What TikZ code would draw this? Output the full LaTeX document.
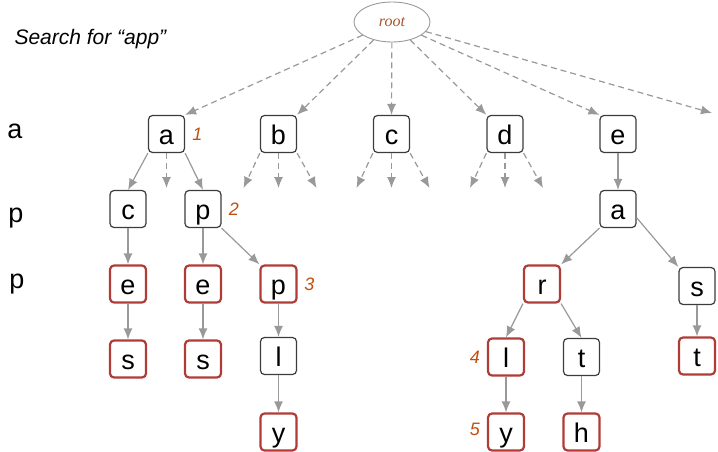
\documentclass[tikz,border=0pt]{standalone}
\usepackage{fontspec}
\setmainfont{Liberation Sans}
\newfontfamily\rootfont{Liberation Serif}
\usepackage{tikz}
\usetikzlibrary{shapes.geometric,arrows.meta,positioning}
\definecolor{edgegray}{HTML}{999999}
\definecolor{boxline}{HTML}{3C3C3C}
\definecolor{hitred}{HTML}{B03C38}
\definecolor{numorange}{HTML}{C0500E}
\definecolor{rootbrown}{HTML}{A8542A}
\tikzstyle{box}=[draw=boxline, line width=1.2pt, rounded corners=4pt, minimum width=36pt, minimum height=37pt, inner sep=0pt, text height=20pt, text depth=0pt, font=\fontsize{27}{30}\selectfont]
\tikzstyle{hit}=[box, draw=hitred, line width=2.2pt]
\tikzstyle{num}=[font=\itshape\fontsize{18}{20}\selectfont, text=numorange, node distance=31pt]
\tikzstyle{row}=[anchor=base, font=\fontsize{27}{30}\selectfont]
\tikzstyle{arrow}=[edgegray, line width=1.2pt, -{Latex[length=11pt,width=9pt]}]
\tikzstyle{link}=[arrow, dash pattern=on 6pt off 4pt]

\begin{document}
\begin{tikzpicture}[x=1pt, y=-1pt, node distance=75pt]
    \useasboundingbox (0,0) rectangle (718,452);
    \node (title) [anchor=base west, font=\itshape\fontsize{21}{24}\selectfont] at (11,45) {Search for “app”};
    \node (root) [ellipse, draw=edgegray, line width=0.9pt, minimum width=76pt, minimum height=40pt, text=rootbrown, font=\rootfont\itshape\fontsize{16}{18}\selectfont] at (392,22) {root};
    \node (rowa) [row] at (15,139) {a};
    \node (rowp) [row] at (16,222) {p};
    \node (rowpp) [row] at (17,288) {p};

    \node (a) [box] at (166.5,134) {a};
    \node (b) [box] at (278.5,134) {b};
    \node (c) [box] at (391.5,134) {c};
    \node (d) [box] at (505,134) {d};
    \node (e) [box] at (618,134) {e};
    \node (more) [coordinate] at (712,113) {};
    \node (n1) [num, right of=a] {1};

    \node (ac) [box, below of=a, xshift=-38.5pt] {c};
    \node (ap) [box, below of=a, xshift=36.5pt] {p};
    \node (n2) [num, right of=ap] {2};
    \node (am) [below of=a, node distance=54pt, coordinate] {};
    \node (ace) [hit, below of=ac] {e};
    \node (aces) [hit, below of=ace] {s};
    \node (ape) [hit, below of=ap] {e};
    \node (apes) [hit, below of=ape] {s};
    \node (app) [hit, below of=ap, xshift=75.5pt] {p};
    \node (n3) [num, right of=app] {3};
    \node (appl) [box, below of=app, yshift=3pt] {l};
    \node (apply) [hit, below of=app, yshift=-73pt] {y};

    \node (ea) [box, below of=e] {a};
    \node (ear) [hit, below of=ea, xshift=-76pt] {r};
    \node (eas) [box, below of=ea, xshift=79pt, yshift=-2pt] {s};
    \node (earl) [hit, below of=ear, xshift=-36pt, yshift=2pt] {l};
    \node (n4) [num, left of=earl] {4};
    \node (eart) [box, below of=ear, xshift=39.5pt, yshift=2pt] {t};
    \node (east) [hit, below of=eas, yshift=5pt] {t};
    \node (early) [hit, below of=ear, xshift=-36pt, yshift=-73pt] {y};
    \node (n5) [num, left of=early, yshift=3pt] {5};
    \node (earth) [hit, below of=ear, xshift=39.5pt, yshift=-73pt] {h};

    \foreach \n in {b,c,d} {
        \node (\n1) [below of=\n, node distance=54pt, xshift=-35pt, coordinate] {};
        \node (\n2) [below of=\n, node distance=54pt, coordinate] {};
        \node (\n3) [below of=\n, node distance=54pt, xshift=38pt, coordinate] {};
        \path[link]
            (\n.south west) edge (\n1)
            (\n.south) edge (\n2)
            (\n.south east) edge (\n3);
    }

    \path[link]
        (root) edge (a.north east)
        (root) edge (b.north east)
        (root) edge (c.north)
        (root) edge (d.north west)
        (root) edge (e.north west)
        (root) edge (more)
        (a.south) edge (am);
    \path[arrow]
        (a.south west) edge (ac.north)
        (a.south east) edge (ap.north)
        (ac) edge (ace)
        (ace) edge (aces)
        (ap) edge (ape)
        (ape) edge (apes)
        (ap.south east) edge (app.north west)
        (app) edge (appl)
        (appl) edge (apply)
        (e) edge (ea)
        (ea.south west) edge (ear.north east)
        (ea.-25) edge (eas.north west)
        (ear.south west) edge (earl.north)
        (ear.south east) edge (eart.north)
        (eas) edge (east)
        (earl) edge (early)
        (eart) edge (earth);
\end{tikzpicture}
\end{document}
